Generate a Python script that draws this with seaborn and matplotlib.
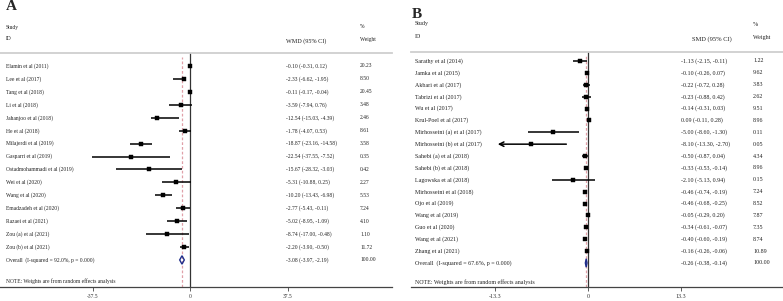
import matplotlib
matplotlib.use("Agg")
import matplotlib.pyplot as plt
import matplotlib.transforms as mtransforms
import seaborn as sns
import pandas as pd

sns.set_theme(style="white")
plt.rcParams['font.family'] = ['Liberation Serif', 'DejaVu Serif']

# Panel A: WMD
studies_a = ["Elamin et al (2011)", "Lee et al (2017)", "Tang et al (2018)", "Li et al (2018)",
             "Jahanjoo et al (2018)", "He et al (2018)", "Milajerdi et al (2019)", "Gasparri et al (2019)",
             "Ostadmohammadi et al (2019)", "Wei et al (2020)", "Wang et al (2020)", "Emadzadeh et al (2020)",
             "Razaei et al (2021)", "Zou (a) et al (2021)", "Zou (b) et al (2021)"]
est_a = [-0.10, -2.33, -0.11, -3.59, -12.54, -1.78, -18.87, -22.54, -15.67, -5.31, -10.20, -2.77, -5.02, -8.74, -2.20]
low_a = [-0.31, -6.62, -0.17, -7.94, -15.03, -4.07, -23.16, -37.55, -28.32, -10.88, -13.43, -5.43, -8.95, -17.00, -3.90]
up_a = [0.12, -1.95, -0.04, 0.76, -4.39, 0.53, -14.58, -7.52, -3.03, 0.25, -6.98, -0.11, -1.09, -0.48, -0.50]
wt_a = [20.23, 8.50, 20.45, 3.48, 2.46, 8.61, 3.58, 0.35, 0.42, 2.27, 5.53, 7.24, 4.10, 1.10, 11.72]
overall_a = [-3.08, -3.97, -2.19]
overall_label_a = "Overall  (I-squared = 92.0%, p = 0.000)"
ticks_a = [-37.5, 0, 37.5]

# Panel B: SMD
studies_b = ["Sarathy et al (2014)", "Jamka et al (2015)", "Akbari et al (2017)", "Tabrizi et al (2017)",
             "Wu et al (2017)", "Krul-Poel et al (2017)", "Mirhosseini (a) et al (2017)",
             "Mirhosseini (b) et al (2017)", "Sahebi (a) et al (2018)", "Sahebi (b) et al (2018)",
             "Lagowska et al (2018)", "Mirhosseini et al (2018)", "Ojo et al (2019)", "Wang et al (2019)",
             "Guo et al (2020)", "Wang et al (2021)", "Zhang et al (2021)"]
est_b = [-1.13, -0.10, -0.22, -0.23, -0.14, 0.09, -5.00, -8.10, -0.50, -0.33, -2.10, -0.46, -0.46, -0.05, -0.34, -0.40, -0.16]
low_b = [-2.15, -0.26, -0.72, -0.88, -0.31, -0.11, -8.60, -13.30, -0.87, -0.53, -5.13, -0.74, -0.68, -0.29, -0.61, -0.60, -0.26]
up_b = [-0.11, 0.07, 0.28, 0.42, 0.03, 0.28, -1.30, -2.70, 0.04, -0.14, 0.94, -0.19, -0.25, 0.20, -0.07, -0.19, -0.06]
wt_b = [1.22, 9.62, 3.83, 2.62, 9.51, 8.96, 0.11, 0.05, 4.34, 8.96, 0.15, 7.24, 8.52, 7.87, 7.35, 8.74, 10.89]
overall_b = [-0.26, -0.38, -0.14]
overall_label_b = "Overall  (I-squared = 67.6%, p = 0.000)"
ticks_b = [-13.3, 0, 13.3]

W, H = 783, 301
fig = plt.figure(figsize=(W / 100, H / 100), dpi=100)
TXT = "#222222"


def px(x, y):
    return x / W, 1 - y / H


def forest(ax_rect, studies, est, low, up, wt, overall, ovl_label, ticks, xlim, clip,
           first_row_px, row_px, cols, est_head, head_px, letter, letter_px, fs):
    ax = fig.add_axes(ax_rect)
    n = len(studies)
    top_px = (1 - (ax_rect[1] + ax_rect[3])) * H
    bot_px = (1 - ax_rect[1]) * H
    ax.set_ylim((bot_px - first_row_px) / row_px, -(first_row_px - top_px) / row_px)
    ax.set_xlim(*xlim)

    df = pd.DataFrame({"row": range(n), "est": est, "low": low, "up": up})
    for r, lo, hi in zip(df["row"], df["low"], df["up"]):
        if clip is not None and lo <= -clip:
            ax.annotate("", xy=(-clip, r), xytext=(hi, r),
                        arrowprops=dict(arrowstyle="->", color="black", lw=1.1, mutation_scale=8))
        else:
            ax.plot([lo, hi], [r, r], color="black", lw=1.1, solid_capstyle="butt")
    sns.scatterplot(data=df, x="est", y="row", marker="s", s=5, color="black",
                    edgecolor="black", linewidth=0.3, ax=ax, zorder=3)

    # overall diamond
    e, lo, hi = overall
    dh = 4.2 / row_px
    ax.fill([lo, e, hi, e, lo], [n, n - dh, n, n + dh, n], facecolor="none",
            edgecolor="#1f2d8a", lw=1.0, zorder=4)
    ax.axvline(0, color="#333333", lw=0.9, zorder=1)
    ax.axvline(e, ymax=0.985, color="#e0a0a8", lw=0.9, ls=(0, (2.2, 1.6)), zorder=1)

    # text columns
    x_name, x_est, x_head, x_wt = cols
    tr = mtransforms.blended_transform_factory(fig.transFigure, ax.transData)
    labels = list(studies) + [ovl_label]
    ests = list(est) + [e]
    lows = list(low) + [lo]
    ups = list(up) + [hi]
    wts = list(wt) + [100.00]
    for i, (lab, a, b, c, w) in enumerate(zip(labels, ests, lows, ups, wts)):
        ax.text(x_name / W, i, lab, transform=tr, fontsize=fs, va="center", ha="left", color=TXT)
        ax.text(x_est / W, i, f"{a:.2f} ({b:.2f}, {c:.2f})", transform=tr, fontsize=fs,
                va="center", ha="left", color=TXT)
        ax.text(x_wt / W, i, f"{w:.2f}", transform=tr, fontsize=fs, va="center", ha="left", color=TXT)
    ax.text(x_name / W, n + 1.65, "NOTE: Weights are from random effects analysis", transform=tr,
            fontsize=fs, va="center", ha="left", color=TXT)

    # headers
    hy1, hy2 = head_px
    fig.text(*px(x_name, hy1), "Study", fontsize=fs, va="center", ha="left", color=TXT)
    fig.text(*px(x_name, hy2), "ID", fontsize=fs, va="center", ha="left", color=TXT)
    fig.text(*px(x_head, hy2 + 2), est_head, fontsize=fs + 0.4, va="center", ha="left", color=TXT)
    fig.text(*px(x_wt, hy1), "%", fontsize=fs, va="center", ha="left", color=TXT)
    fig.text(*px(x_wt, hy2), "Weight", fontsize=fs, va="center", ha="left", color=TXT)
    fig.text(*px(*letter_px), letter, fontsize=11, fontweight="bold", va="center", ha="left")

    # axes styling
    for s in ["left", "right"]:
        ax.spines[s].set_visible(False)
    ax.spines["top"].set_color("#cfcfcf")
    ax.spines["top"].set_linewidth(1.3)
    ax.spines["bottom"].set_color("#444444")
    ax.spines["bottom"].set_linewidth(0.9)
    ax.set_yticks([])
    ax.set_xticks(ticks)
    ax.set_xticklabels([f"{t:g}" for t in ticks])
    ax.tick_params(axis="x", direction="out", length=3, width=0.6, color="#444444",
                   labelsize=fs, labelcolor="#333333", pad=2, bottom=True)
    ax.set_xlabel("")
    ax.set_ylabel("")
    return ax


# panel A: 2.6 px per unit, zero at x=190
sa = 97.5 / 37.5
forest([0 / W, 1 - 287 / H, 392 / W, (287 - 53) / H], studies_a, est_a, low_a, up_a, wt_a,
       overall_a, overall_label_a, ticks_a, ((0 - 190) / sa, (392 - 190) / sa), None,
       66, 12.93, (6, 286, 286, 360), "WMD (95% CI)", (27, 39), "A", (6, 7), 4.0)

# panel B: 6.95 px per unit, zero at x=588
sb = 93 / 13.3
forest([411 / W, 1 - 287 / H, 372 / W, (287 - 52) / H], studies_b, est_b, low_b, up_b, wt_b,
       overall_b, overall_label_b, ticks_b, ((411 - 588) / sb, (783 - 588) / sb), 13.3,
       61, 11.88, (415, 681, 692, 753), "SMD (95% CI)", (24, 37), "B", (412, 15), 4.3)

fig.savefig("out.png", dpi=100, facecolor="white")
